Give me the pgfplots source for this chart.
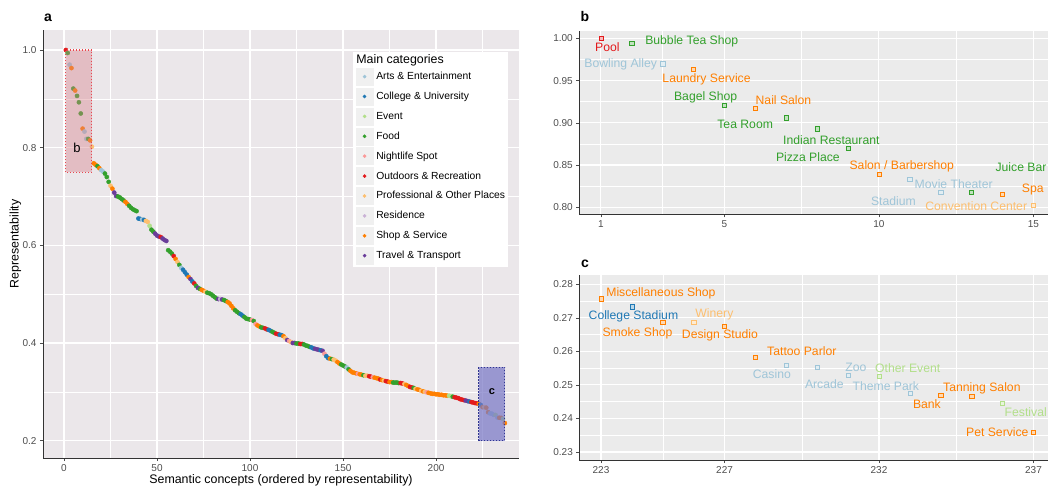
\documentclass[border=0pt]{standalone}
\usepackage{pgfplots}
\pgfplotsset{compat=1.18}
\usepackage{pgfplotstable}
\usepackage{fontspec}
\setmainfont{Liberation Sans}
\definecolor{aec}{HTML}{9FC5D8}
\definecolor{cuc}{HTML}{1F78B4}
\definecolor{evc}{HTML}{B2DF8A}
\definecolor{fdc}{HTML}{33A02C}
\definecolor{nlc}{HTML}{FB9A99}
\definecolor{orc}{HTML}{E31A1C}
\definecolor{poc}{HTML}{FDBF6F}
\definecolor{rsc}{HTML}{CAB2D6}
\definecolor{ssc}{HTML}{FF7F00}
\definecolor{ttc}{HTML}{6A3D9A}
\definecolor{bga}{HTML}{EBE7EA}
\definecolor{bgb}{HTML}{EBEBEB}
\definecolor{tickc}{HTML}{4D4D4D}
\definecolor{keybg}{HTML}{F0F0F0}
\definecolor{boxb}{RGB}{215,128,137}
\definecolor{boxc}{RGB}{119,118,197}
\definecolor{boxbl}{HTML}{E8474F}
\definecolor{boxcl}{HTML}{2F3590}

\pgfplotstableread{
x y c
1 1.000 OR
2 0.994 FD
3 0.970 AE
4 0.963 SS
5 0.921 FD
6 0.917 SS
7 0.906 FD
8 0.893 FD
9 0.870 FD
10 0.839 SS
11 0.833 AE
12 0.818 AE
13 0.818 FD
14 0.815 SS
15 0.802 PO
16 0.768 SS
17 0.765 SS
18 0.762 FD
19 0.758 SS
20 0.754 AE
21 0.751 AE
22 0.747 FD
23 0.740 FD
24 0.730 FD
25 0.722 PO
26 0.716 SS
27 0.708 TT
28 0.701 TT
29 0.700 FD
30 0.698 FD
31 0.695 FD
32 0.692 FD
33 0.689 SS
34 0.685 SS
35 0.681 FD
36 0.677 FD
37 0.674 FD
38 0.672 FD
39 0.670 FD
40 0.655 CU
41 0.654 CU
42 0.653 AE
43 0.652 CU
44 0.650 PO
45 0.648 PO
46 0.640 EV
47 0.632 FD
48 0.628 FD
49 0.624 TT
50 0.620 TT
51 0.618 TT
52 0.617 OR
53 0.614 TT
54 0.611 TT
55 0.609 TT
56 0.590 FD
57 0.587 FD
58 0.583 FD
59 0.578 OR
60 0.572 SS
61 0.566 PO
62 0.560 FD
63 0.554 AE
64 0.550 CU
65 0.545 CU
66 0.540 CU
67 0.535 SS
68 0.531 TT
69 0.526 CU
70 0.522 OR
71 0.517 FD
72 0.513 TT
73 0.511 FD
74 0.509 SS
75 0.507 SS
76 0.505 PO
77 0.503 FD
78 0.502 FD
79 0.500 FD
80 0.497 FD
81 0.494 FD
82 0.491 FD
83 0.490 TT
84 0.490 RS
85 0.489 TT
86 0.488 FD
87 0.486 FD
88 0.484 SS
89 0.481 SS
90 0.476 SS
91 0.471 SS
92 0.467 FD
93 0.464 FD
94 0.461 FD
95 0.459 CU
96 0.456 CU
97 0.453 FD
98 0.450 FD
99 0.449 FD
100 0.448 FD
101 0.447 NL
102 0.445 FD
103 0.439 NL
104 0.436 SS
105 0.434 SS
106 0.432 FD
107 0.431 FD
108 0.430 OR
109 0.428 OR
110 0.427 CU
111 0.425 CU
112 0.423 FD
113 0.421 FD
114 0.419 OR
115 0.418 OR
116 0.417 CU
117 0.416 CU
118 0.414 SS
119 0.410 PO
120 0.406 TT
121 0.404 NL
122 0.402 PO
123 0.400 TT
124 0.400 TT
125 0.399 FD
126 0.399 FD
127 0.398 OR
128 0.398 OR
129 0.397 FD
130 0.395 FD
131 0.394 FD
132 0.392 FD
133 0.391 CU
134 0.389 CU
135 0.388 TT
136 0.387 TT
137 0.386 TT
138 0.385 CU
139 0.384 TT
140 0.378 NL
141 0.373 CU
142 0.369 CU
143 0.368 SS
144 0.367 FD
145 0.366 PO
146 0.364 PO
147 0.361 SS
148 0.358 SS
149 0.356 FD
150 0.354 FD
151 0.352 FD
152 0.350 AE
153 0.346 FD
154 0.343 SS
155 0.340 SS
156 0.339 SS
157 0.338 SS
158 0.337 NL
159 0.336 SS
160 0.335 SS
161 0.334 FD
162 0.333 PO
163 0.333 PO
164 0.332 OR
165 0.331 OR
166 0.330 NL
167 0.329 SS
168 0.328 SS
169 0.327 SS
170 0.325 OR
171 0.324 SS
172 0.323 PO
173 0.322 OR
174 0.321 OR
175 0.320 SS
176 0.320 SS
177 0.319 FD
178 0.319 FD
179 0.319 FD
180 0.318 FD
181 0.318 OR
182 0.317 OR
183 0.316 PO
184 0.314 SS
185 0.312 SS
186 0.310 OR
187 0.309 OR
188 0.308 FD
189 0.306 PO
190 0.305 SS
191 0.304 SS
192 0.302 PO
193 0.301 SS
194 0.300 PO
195 0.299 NL
196 0.298 SS
197 0.297 SS
198 0.296 SS
199 0.296 SS
200 0.295 SS
201 0.295 SS
202 0.294 SS
203 0.294 SS
204 0.293 SS
205 0.293 SS
206 0.292 SS
207 0.292 EV
208 0.291 EV
209 0.290 FD
210 0.289 OR
211 0.288 OR
212 0.287 OR
213 0.285 OR
214 0.284 OR
215 0.283 OR
216 0.282 TT
217 0.281 TT
218 0.280 CU
219 0.279 OR
220 0.278 OR
221 0.277 OR
222 0.2765 OR
223 0.2757 SS
224 0.2733 CU
225 0.2687 SS
226 0.2687 PO
227 0.2675 SS
228 0.2583 SS
229 0.2559 AE
230 0.2553 AE
231 0.2529 AE
232 0.2526 EV
233 0.2474 AE
234 0.2469 SS
235 0.2466 SS
236 0.2445 EV
237 0.2360 SS
}\concepts

\newcommand{\lbl}{\fontsize{12.2}{14}\selectfont}
\pgfplotsset{
  ggbase/.style={scale only axis, axis x line*=bottom, axis y line*=left,
    axis line style={-, black!80, line width=0.8pt},
    tick align=outside, major tick length=3pt, minor tick length=0pt,
    tick style={black!70, line width=0.6pt},
    grid=both, major grid style={white, line width=1.1pt},
    minor grid style={white, line width=0.55pt},
    ticklabel style={font=\fontsize{10}{12}\selectfont, text=tickc},
    clip mode=individual},
  dotsA/.style={only marks, scatter, scatter src=explicit symbolic, mark size=2.1pt,
    scatter/classes={
      AE={mark=*,aec}, CU={mark=*,cuc},
      EV={mark=*,evc}, FD={mark=*,fdc},
      NL={mark=*,nlc}, OR={mark=*,orc},
      PO={mark=*,poc}, RS={mark=*,rsc},
      SS={mark=*,ssc}, TT={mark=*,ttc}}},
  sqB/.style={only marks, scatter, scatter src=explicit symbolic, mark size=2.1pt,
    mark options={line width=0.5pt},
    scatter/classes={
      AE={mark=square*,draw=aec,fill=aec!30}, CU={mark=square*,draw=cuc,fill=cuc!30},
      EV={mark=square*,draw=evc,fill=evc!30}, FD={mark=square*,draw=fdc,fill=fdc!30},
      NL={mark=square*,draw=nlc,fill=nlc!30}, OR={mark=square*,draw=orc,fill=orc!30},
      PO={mark=square*,draw=poc,fill=poc!30}, RS={mark=square*,draw=rsc,fill=rsc!30},
      SS={mark=square*,draw=ssc,fill=ssc!30}, TT={mark=square*,draw=ttc,fill=ttc!30}}},
  catkey/.style={legend image code/.code={\fill[keybg] (0pt,-8.5pt) rectangle (17pt,8.5pt); \fill[#1] (8.5pt,0pt) circle (1.6pt);}},
}

\begin{document}
\begin{tikzpicture}
% ---------------- panel a ----------------
\begin{axis}[ggbase, at={(43pt,33pt)}, anchor=south west, width=476pt, height=428pt,
  xmin=-11.3, xmax=244.6, ymin=0.1645, ymax=1.041,
  axis background/.style={fill=bga},
  xtick={0,50,100,150,200}, xticklabels={0,50,100,150,200},
  minor xtick={25,75,125,175,225},
  ytick={0.2,0.4,0.6,0.8,1.0}, yticklabels={0.2,0.4,0.6,0.8,1.0},
  minor ytick={0.3,0.5,0.7,0.9},
  xlabel={Semantic concepts (ordered by representability)},
  ylabel={Representability},
  every axis x label/.style={at={(axis description cs:0.5,-0.0514)}, anchor=center, font=\fontsize{12.4}{14}\selectfont},
  every axis y label/.style={at={(axis description cs:-0.058,0.5)}, anchor=center, rotate=90, font=\fontsize{12.4}{14}\selectfont},
  legend style={at={(axis description cs:0.6506,0.9493)}, anchor=north west, draw=none, fill=white,
    inner xsep=3pt, inner ysep=3pt, font=\fontsize{10.3}{12}\selectfont, row sep=2.5pt, column sep=3pt,
    nodes={inner sep=0pt}},
  legend cell align=left,
]
\addplot[dotsA, forget plot] table[x=x, y=y, meta=c]{\concepts};
\draw[boxbl, dash pattern=on 1.2pt off 1.8pt, line width=1.1pt, fill=boxb, fill opacity=0.4] (axis cs:1,0.75) rectangle (axis cs:15,1.0);
\draw[boxcl, dash pattern=on 1.2pt off 1.8pt, line width=1.1pt, fill=boxc, fill opacity=0.7] (axis cs:223,0.2) rectangle (axis cs:237,0.35);
\node[font=\fontsize{13}{15}\selectfont] at (axis cs:7,0.8) {b};
\node[font=\bfseries\fontsize{11}{13}\selectfont] at (axis cs:230,0.3) {c};
\addlegendimage{empty legend}\addlegendentry{\hspace*{-20pt}\fontsize{12.4}{14}\selectfont Main categories}
\addlegendimage{catkey=aec}\addlegendentry{Arts \& Entertainment}
\addlegendimage{catkey=cuc}\addlegendentry{College \& University}
\addlegendimage{catkey=evc}\addlegendentry{Event}
\addlegendimage{catkey=fdc}\addlegendentry{Food}
\addlegendimage{catkey=nlc}\addlegendentry{Nightlife Spot}
\addlegendimage{catkey=orc}\addlegendentry{Outdoors \& Recreation}
\addlegendimage{catkey=poc}\addlegendentry{Professional \& Other Places}
\addlegendimage{catkey=rsc}\addlegendentry{Residence}
\addlegendimage{catkey=ssc}\addlegendentry{Shop \& Service}
\addlegendimage{catkey=ttc}\addlegendentry{Travel \& Transport}
\end{axis}

% ---------------- panel b ----------------
\begin{axis}[ggbase, at={(579.3pt,276.7pt)}, anchor=south west, width=475.7pt, height=183.3pt,
  xmin=0.3, xmax=15.7, ymin=0.7917, ymax=1.0087,
  axis background/.style={fill=bgb},
  xtick={1,5,10,15}, xticklabels={1,5,10,15}, minor xtick={3,7.5,12.5},
  ytick={0.80,0.85,0.90,0.95,1.00}, yticklabels={0.80,0.85,0.90,0.95,1.00},
  minor ytick={0.825,0.875,0.925,0.975},
]
\addplot[sqB] table[x=x, y=y, meta=c]{\concepts};
\node[font=\lbl, text=orc] at (axis cs:1.21,0.9893) {Pool};
\node[font=\lbl, text=fdc] at (axis cs:3.94,0.9964) {Bubble Tea Shop};
\node[font=\lbl, text=aec] at (axis cs:1.64,0.9687) {Bowling Alley};
\node[font=\lbl, text=ssc] at (axis cs:4.42,0.9513) {Laundry Service};
\node[font=\lbl, text=fdc] at (axis cs:4.39,0.9306) {Bagel Shop};
\node[font=\lbl, text=ssc] at (axis cs:6.91,0.9264) {Nail Salon};
\node[font=\lbl, text=fdc] at (axis cs:5.67,0.8979) {Tea Room};
\node[font=\lbl, text=fdc] at (axis cs:8.46,0.8800) {Indian Restaurant};
\node[font=\lbl, text=fdc] at (axis cs:7.70,0.8590) {Pizza Place};
\node[font=\lbl, text=ssc] at (axis cs:10.74,0.8483) {Salon / Barbershop};
\node[font=\lbl, text=aec] at (axis cs:12.42,0.8270) {Movie Theater};
\node[font=\lbl, text=aec] at (axis cs:10.47,0.8068) {Stadium};
\node[font=\lbl, text=fdc] at (axis cs:14.60,0.8475) {Juice Bar};
\node[font=\lbl, text=ssc] at (axis cs:14.98,0.8207) {Spa};
\node[font=\lbl, text=poc] at (axis cs:13.15,0.8008) {Convention Center};
\end{axis}

% ---------------- panel c ----------------
\begin{axis}[ggbase, at={(579.3pt,31pt)}, anchor=south west, width=475.7pt, height=185pt,
  xmin=222.3, xmax=237.7, ymin=0.2276, ymax=0.2828,
  axis background/.style={fill=bgb},
  xtick={223,227,232,237}, xticklabels={223,227,232,237}, minor xtick={225,229.5,234.5},
  ytick={0.23,0.24,0.25,0.26,0.27,0.28}, yticklabels={0.23,0.24,0.25,0.26,0.27,0.28},
  minor ytick={0.235,0.245,0.255,0.265,0.275},
]
\addplot[sqB] table[x=x, y=y, meta=c]{\concepts};
\node[font=\lbl, text=ssc] at (axis cs:224.94,0.2773) {Miscellaneous Shop};
\node[font=\lbl, text=cuc] at (axis cs:224.05,0.2705) {College Stadium};
\node[font=\lbl, text=ssc] at (axis cs:224.18,0.2654) {Smoke Shop};
\node[font=\lbl, text=poc] at (axis cs:226.67,0.2711) {Winery};
\node[font=\lbl, text=ssc] at (axis cs:226.85,0.2648) {Design Studio};
\node[font=\lbl, text=ssc] at (axis cs:229.50,0.2602) {Tattoo Parlor};
\node[font=\lbl, text=aec] at (axis cs:228.53,0.2532) {Casino};
\node[font=\lbl, text=aec] at (axis cs:230.23,0.2501) {Arcade};
\node[font=\lbl, text=aec] at (axis cs:231.25,0.2552) {Zoo};
\node[font=\lbl, text=evc] at (axis cs:232.93,0.2549) {Other Event};
\node[font=\lbl, text=aec] at (axis cs:232.22,0.2497) {Theme Park};
\node[font=\lbl, text=ssc] at (axis cs:235.33,0.2491) {Tanning Salon};
\node[font=\lbl, text=ssc] at (axis cs:233.55,0.2442) {Bank};
\node[font=\lbl, text=evc] at (axis cs:236.75,0.2419) {Festival};
\node[font=\lbl, text=ssc] at (axis cs:235.83,0.2359) {Pet Service};
\end{axis}

\node[font=\bfseries\fontsize{14}{16}\selectfont] at (48pt,473pt) {a};
\node[font=\bfseries\fontsize{14}{16}\selectfont] at (585pt,475pt) {b};
\node[font=\bfseries\fontsize{14}{16}\selectfont] at (585pt,227pt) {c};

\pgfresetboundingbox
\path[use as bounding box] (0pt,0pt) rectangle (1048pt,491pt);
\end{tikzpicture}
\end{document}
